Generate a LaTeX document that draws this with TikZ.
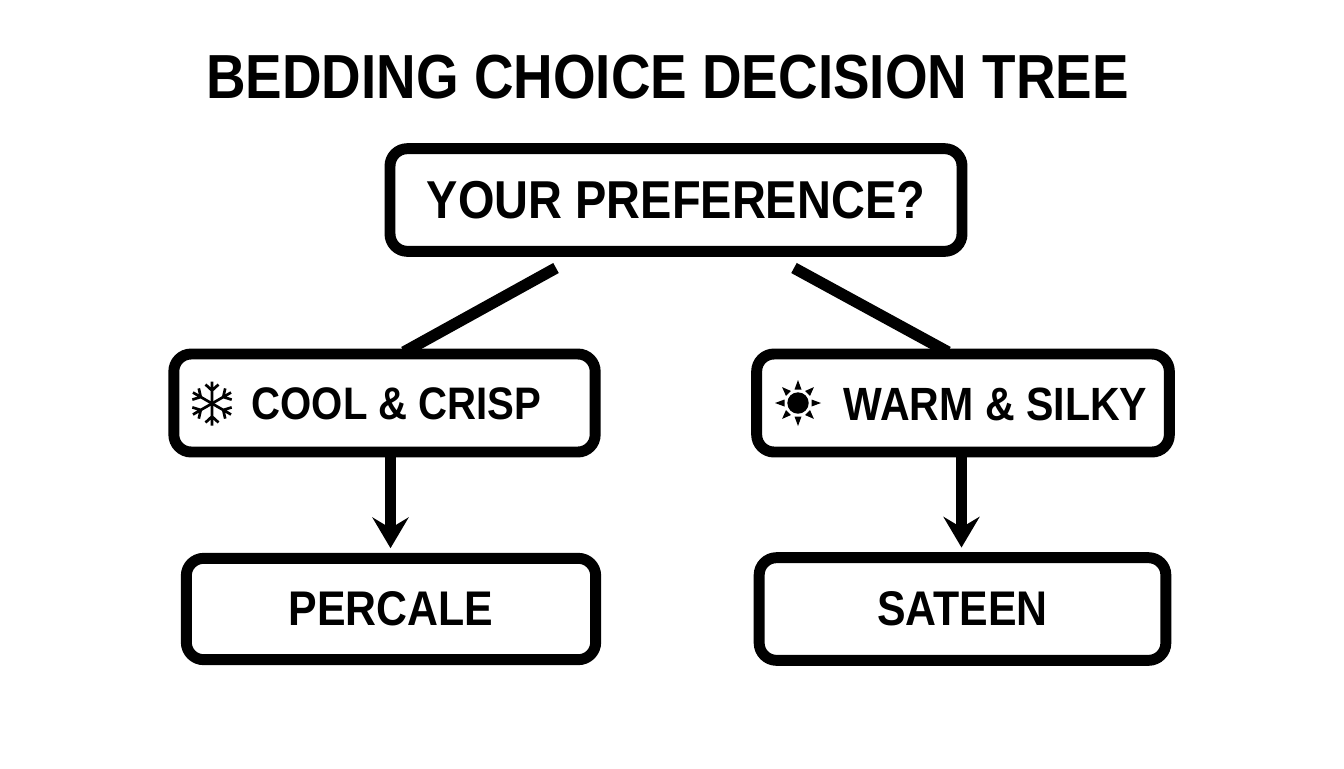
\documentclass[tikz,border=0pt]{standalone}
\usepackage{fontspec}
\setmainfont[FakeStretch=0.88]{Liberation Sans}
\usetikzlibrary{arrows.meta}

\tikzset{
  thick line/.style={line width=8.2pt, draw=black},
  box/.style={thick line, rounded corners=13pt, fill=white, inner sep=0pt, align=center},
  downarrow/.style={line width=8.2pt, shorten >=3.5pt, -{Stealth[length=23pt, width=27pt, inset=8pt]}},
}

\begin{document}
\begin{tikzpicture}[x=0.75pt, y=-0.75pt]

    \useasboundingbox (0, 0) rectangle (1344, 768);

    \node [font=\bfseries\fontsize{46.7}{50}\selectfont] (title) at (667.5, 77) {BEDDING CHOICE DECISION TREE};

    \coordinate (ls) at (556, 268);
    \coordinate (le) at (404, 352);
    \coordinate (rs) at (794, 268);
    \coordinate (re) at (948, 352);
    \draw [line width=8.6pt] (ls) to (le);
    \draw [line width=8.6pt] (rs) to (re);

    \node [box, font=\bfseries\fontsize{40}{44}\selectfont, minimum width=429pt, minimum height=77pt] (pref) at (676, 200) {YOUR PREFERENCE?};
    \node [box, minimum width=316pt, minimum height=73.5pt] (cool) at (384.5, 403) {};
    \node [box, minimum width=309.5pt, minimum height=73.5pt] (warm) at (963, 403) {};
    \node [box, font=\bfseries\fontsize{36.5}{40}\selectfont, minimum width=307pt, minimum height=76pt] (percale) at (391, 609) {PERCALE};
    \node [box, font=\bfseries\fontsize{36.5}{40}\selectfont, minimum width=305pt, minimum height=77pt] (sateen) at (962.5, 609) {SATEEN};

    \node [font=\bfseries\fontsize{34.2}{38}\selectfont] (cooltext) at (396.5, 404) {COOL \& CRISP};
    \node [font=\bfseries\fontsize{35}{38}\selectfont] (warmtext) at (995.5, 404) {WARM \& SILKY};

    \draw [downarrow] (cool.south -| 390.5, 0) to (percale.north -| 390.5, 0);
    \draw [downarrow] (warm.south -| 961.5, 0) to (sateen.north -| 961.5, 0);

    % snowflake
    \foreach \a in {30, 90, 150, 210, 270, 330} {
      \draw [line width=2pt, rotate around={\a:(212, 403.5)}] (212, 403.5) -- ++(22, 0)
        (225, 403.5) ++(6, -6.5) -- ++(-6, 6.5) -- ++(6, 6.5);
    }

    % sun
    \fill (798, 403) circle (10.7);
    \foreach \a in {0, 90, 180, 270} {
      \fill [rotate around={\a:(798, 403)}] (811.5, 399.5) -- (821, 403) -- (811.5, 406.5) -- cycle;
    }
    \foreach \a in {45, 135, 225, 315} {
      \fill [rotate around={\a:(798, 403)}] (811.5, 399.5) -- (820.5, 403) -- (811.5, 406.5) -- cycle;
    }

\end{tikzpicture}
\end{document}
